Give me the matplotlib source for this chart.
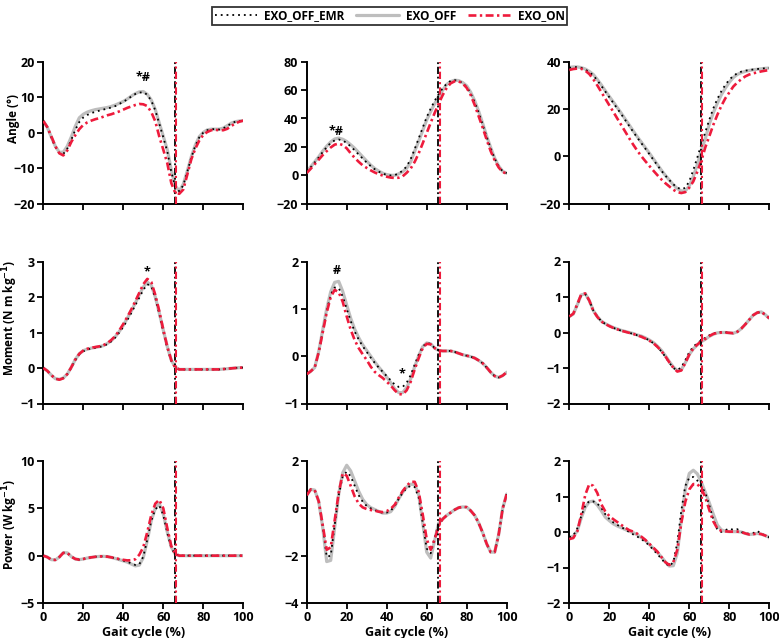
import numpy as np
import matplotlib
matplotlib.use("Agg")
import matplotlib.pyplot as plt

plt.rcParams['font.family'] = ['Open Sans', 'DejaVu Sans']
plt.rcParams['font.weight'] = 'bold'
plt.rcParams['mathtext.default'] = 'bf'

gait = np.arange(0, 101, 2)

# ---------------- Row 1: angles ----------------
ang1_off = [3.3, 1.5, -1.2, -3.8, -5.5, -5.5, -3.8, -1.2, 1.8, 4.2, 5.2, 5.8, 6.2, 6.5, 6.7, 6.9, 7.1, 7.4, 7.8, 8.3,
            8.8, 9.5, 10.3, 11.0, 11.5, 11.6, 10.8, 9.2, 6.5, 2.7, -1.0, -4.8, -10.5, -15.0, -16.4, -14.5, -10.8, -6.8,
            -3.5, -1.1, 0.1, 0.8, 1.0, 1.0, 1.0, 1.3, 2.0, 2.7, 3.1, 3.3, 3.4]
ang1_on = [3.3, 1.6, -1.0, -3.8, -5.8, -6.4, -5.0, -2.6, -0.7, 1.0, 2.2, 2.9, 3.4, 3.8, 4.1, 4.5, 4.9, 5.2, 5.6, 6.0,
           6.5, 7.0, 7.4, 7.8, 8.1, 8.0, 7.5, 5.8, 3.2, -1.1, -4.8, -8.6, -14.2, -17.0, -17.2, -16.0, -11.8, -7.5,
           -4.5, -2.2, -0.6, 0.2, 0.7, 0.8, 0.7, 0.7, 1.1, 1.9, 2.6, 3.1, 3.4]
ang1_emr = [3.3, 1.5, -1.3, -4.0, -5.8, -6.0, -4.5, -2.0, 0.8, 3.0, 4.3, 5.0, 5.5, 5.9, 6.2, 6.5, 6.8, 7.1, 7.5, 8.1,
            8.7, 9.4, 10.2, 10.9, 11.3, 11.4, 10.7, 9.0, 6.3, 2.5, -1.3, -5.3, -11.0, -15.3, -16.5, -14.8, -11.0,
            -7.0, -3.7, -1.3, 0.0, 0.7, 1.0, 1.0, 0.9, 1.2, 1.9, 2.6, 3.1, 3.3, 3.4]

ang2_off = [2.8, 6, 9.5, 13, 17, 20.5, 23.5, 25.6, 26.2, 25.4, 23.8, 21.5, 19, 16, 13, 10, 7.2, 4.8, 3.0, 1.5,
            0.5, 0, 0, 1, 2.6, 5, 9.5, 17, 24, 31.5, 39, 45, 50.5, 55.5, 60, 64, 66, 67, 66.7, 65.3,
            63, 58.5, 52.5, 45, 36.5, 27.5, 19.5, 12, 6.5, 2.8, 1.5]
ang2_on = [1.6, 4.6, 7.8, 11, 14.2, 17, 19.6, 21.6, 22.3, 21.3, 19.0, 15.5, 12.3, 9.5, 7, 5.2, 3.5, 2.0, 0.8, -0.2,
           -1.0, -1.6, -1.9, -1.7, -0.7, 1.8, 4.8, 9.5, 15.5, 22.5, 29.8, 37, 44, 50.5, 56.5, 61.6, 64.8, 66.2,
           66.2, 64.6, 61.6, 56.5, 49.5, 41.5, 33.5, 25, 17, 10.5, 5.5, 2.3, 1.2]
ang2_emr = [2.5, 5.6, 9, 12.5, 16.3, 19.8, 22.8, 24.6, 25.2, 24.5, 22.8, 20.3, 17.6, 14.6, 11.8, 9.0, 6.5, 4.3, 2.6,
            1.2, 0.3, -0.1, 0.1, 1.3, 3.3, 6.3, 11.5, 18.5, 26, 33.5, 41, 47, 52.5, 57.2, 61.3, 64.5, 66.5, 67,
            66.5, 64.8, 62.2, 57.5, 51.5, 44, 35.5, 27, 19, 11.8, 6.3, 2.8, 1.5]

ang3_off = [37.6, 37.8, 37.8, 37.5, 36.9, 35.9, 34.6, 32.5, 30.2, 27.7, 25.3, 23, 20.6, 18.2, 15.7, 13.2, 10.7, 8.3,
            6.0, 3.7, 1.4, -1, -3.4, -5.8, -8.0, -10, -12, -13.6, -14.6, -14.6, -12.5, -8.5, -3.5, 2.6, 7.5, 13.6,
            18.4, 22.4, 26, 28.8, 31.3, 33.3, 34.6, 35.4, 35.9, 36.3, 36.6, 36.8, 37, 37.2, 37.3]
ang3_on = [36.5, 36.9, 37.1, 37, 36.2, 34.8, 32.6, 30.0, 27.2, 24.4, 21.6, 18.8, 16.0, 13.2, 10.4, 7.6, 4.9, 2.4,
           0.1, -2.0, -4.0, -6.0, -7.9, -9.7, -11.3, -12.7, -14.1, -15.1, -15.5, -15.1, -13.2, -10.6, -6.5, -1.9,
           3.8, 8.5, 13.3, 17.5, 21.3, 24.5, 27, 29.5, 31.2, 32.6, 33.8, 34.6, 35.1, 35.5, 35.9, 36.2, 36.5]
ang3_emr = [37.4, 37.7, 37.7, 37.4, 36.7, 35.6, 34.2, 32.1, 29.8, 27.4, 25, 22.6, 20.2, 17.8, 15.3, 12.8, 10.3, 7.9,
            5.6, 3.3, 1, -1.4, -3.7, -6, -8.1, -10, -11.8, -13.2, -13.9, -13.3, -10.5, -5.8, -0.5, 5, 10.2, 15.5,
            20.3, 24.2, 27.5, 30.2, 32.4, 34, 35.1, 35.8, 36.2, 36.5, 36.7, 36.9, 37.1, 37.2, 37.3]

# ---------------- Row 2: moments ----------------
_tail_m1 = [-0.04] * 11 + [-0.03, -0.02, -0.01, 0.0, 0.01, 0.01]
mom1_off = [0.0, -0.08, -0.2, -0.3, -0.32, -0.28, -0.17, 0.02, 0.24, 0.4, 0.49, 0.53, 0.56, 0.58, 0.6, 0.63, 0.69,
            0.77, 0.88, 1.03, 1.2, 1.4, 1.6, 1.83, 2.06, 2.28, 2.42, 2.33, 2.0, 1.55, 1.06, 0.6, 0.22, 0.02] + _tail_m1
mom1_on = [0.0, -0.08, -0.2, -0.3, -0.33, -0.29, -0.17, 0.02, 0.24, 0.4, 0.49, 0.54, 0.57, 0.59, 0.61, 0.64, 0.7,
           0.79, 0.9, 1.06, 1.24, 1.44, 1.65, 1.88, 2.12, 2.36, 2.51, 2.42, 2.06, 1.6, 1.08, 0.6, 0.22, 0.01] + _tail_m1
mom1_emr = [0.0, -0.08, -0.2, -0.3, -0.32, -0.28, -0.17, 0.01, 0.22, 0.38, 0.47, 0.52, 0.55, 0.57, 0.59, 0.62, 0.67,
            0.75, 0.86, 1.0, 1.16, 1.35, 1.55, 1.77, 1.98, 2.2, 2.36, 2.3, 1.98, 1.52, 1.02, 0.56, 0.2, 0.01] + _tail_m1

_tail_m2 = [0.11, 0.11, 0.11, 0.09, 0.06, 0.03, 0.01, -0.01, -0.04, -0.09, -0.15, -0.24, -0.34, -0.42, -0.45,
            -0.41, -0.34]
mom2_off = [-0.38, -0.32, -0.24, 0.1, 0.55, 1.0, 1.36, 1.56, 1.58, 1.37, 1.08, 0.8, 0.57, 0.39, 0.24, 0.12, 0.0,
            -0.12, -0.23, -0.33, -0.44, -0.56, -0.69, -0.77, -0.77, -0.66, -0.48, -0.22, 0.01, 0.2, 0.28, 0.26,
            0.17, 0.12] + _tail_m2
mom2_on = [-0.38, -0.32, -0.24, 0.08, 0.5, 0.92, 1.25, 1.4, 1.35, 1.15, 0.84, 0.56, 0.34, 0.17, 0.04, -0.08, -0.22,
           -0.33, -0.4, -0.46, -0.54, -0.62, -0.72, -0.8, -0.81, -0.72, -0.54, -0.28, -0.04, 0.17, 0.26, 0.25,
           0.17, 0.12] + _tail_m2
mom2_emr = [-0.38, -0.32, -0.24, 0.08, 0.52, 0.95, 1.3, 1.45, 1.44, 1.26, 1.0, 0.74, 0.52, 0.35, 0.21, 0.09, -0.03,
            -0.14, -0.24, -0.33, -0.42, -0.51, -0.6, -0.65, -0.65, -0.56, -0.4, -0.18, 0.03, 0.2, 0.28, 0.26,
            0.17, 0.12] + _tail_m2

mom3_off = [0.45, 0.52, 0.78, 1.06, 1.09, 0.9, 0.62, 0.45, 0.32, 0.25, 0.19, 0.14, 0.1, 0.06, 0.03, 0.0, -0.03,
            -0.07, -0.1, -0.15, -0.21, -0.28, -0.38, -0.5, -0.65, -0.82, -0.97, -1.07, -1.05, -0.85, -0.62, -0.46,
            -0.35, -0.26, -0.19, -0.11, -0.05, -0.01, 0.0, 0.0, -0.01, -0.02, 0.02, 0.11, 0.23, 0.36, 0.49, 0.56,
            0.58, 0.5, 0.4]
mom3_on = [0.45, 0.53, 0.8, 1.08, 1.1, 0.9, 0.61, 0.44, 0.31, 0.24, 0.18, 0.13, 0.09, 0.05, 0.02, -0.01, -0.04,
           -0.08, -0.12, -0.17, -0.23, -0.3, -0.4, -0.52, -0.67, -0.84, -0.99, -1.1, -1.07, -0.86, -0.62, -0.45,
           -0.34, -0.25, -0.18, -0.1, -0.04, -0.01, 0.0, 0.0, -0.01, -0.02, 0.02, 0.11, 0.23, 0.36, 0.49, 0.56,
           0.58, 0.5, 0.4]
mom3_emr = [0.45, 0.52, 0.78, 1.05, 1.08, 0.9, 0.62, 0.45, 0.32, 0.24, 0.18, 0.13, 0.09, 0.05, 0.02, -0.01, -0.04,
            -0.08, -0.11, -0.16, -0.22, -0.3, -0.4, -0.53, -0.68, -0.85, -1.0, -1.06, -0.98, -0.78, -0.55, -0.4,
            -0.3, -0.22, -0.15, -0.08, -0.03, 0.0, 0.01, 0.01, -0.01, -0.02, 0.02, 0.11, 0.23, 0.36, 0.49, 0.56,
            0.58, 0.5, 0.4]

# ---------------- Row 3: powers ----------------
_tail_p1 = [0.0] * 17
pow1_on = [0.0, -0.15, -0.42, -0.45, -0.15, 0.3, 0.3, -0.1, -0.35, -0.42, -0.35, -0.25, -0.18, -0.12, -0.08, -0.07,
           -0.1, -0.18, -0.27, -0.36, -0.44, -0.5, -0.48, -0.38, 0.1, 0.9, 2.5, 4.3, 5.5, 5.9, 5.0, 2.9, 1.0,
           0.2] + _tail_p1
pow1_off = [0.0, -0.15, -0.42, -0.45, -0.15, 0.3, 0.3, -0.1, -0.35, -0.42, -0.35, -0.25, -0.18, -0.12, -0.08, -0.07,
            -0.1, -0.18, -0.3, -0.42, -0.55, -0.68, -0.88, -1.08, -1.0, -0.2, 1.6, 3.7, 5.0, 5.5, 4.4, 2.5, 0.9,
            0.15] + _tail_p1
pow1_emr = [0.0, -0.15, -0.42, -0.45, -0.15, 0.3, 0.3, -0.1, -0.35, -0.42, -0.35, -0.25, -0.18, -0.12, -0.08, -0.07,
            -0.1, -0.18, -0.29, -0.4, -0.52, -0.64, -0.82, -0.98, -0.92, -0.1, 1.7, 3.7, 4.9, 5.3, 4.3, 2.4, 0.8,
            0.12] + _tail_p1

_tail_p2 = [-0.45, -0.3, -0.18, -0.06, 0.03, 0.06, 0.05, -0.1, -0.3, -0.62, -1.03, -1.5, -1.85, -1.85, -1.1, 0.0,
            0.6]
pow2_off = [0.55, 0.8, 0.77, 0.3, -0.8, -2.25, -2.2, -0.8, 0.6, 1.5, 1.82, 1.58, 1.15, 0.72, 0.38, 0.16, 0.03,
            -0.05, -0.13, -0.2, -0.2, -0.14, 0.08, 0.4, 0.68, 0.9, 1.02, 1.0, 0.57, -0.6, -1.85, -2.1, -1.35,
            -0.62] + _tail_p2
pow2_on = [0.55, 0.8, 0.77, 0.3, -0.7, -1.75, -1.65, -0.5, 0.65, 1.48, 1.38, 0.95, 0.5, 0.2, 0.04, -0.03, -0.07,
           -0.1, -0.14, -0.16, -0.12, -0.02, 0.15, 0.45, 0.73, 0.95, 1.12, 1.12, 0.7, -0.25, -1.3, -1.75, -1.3,
           -0.75] + _tail_p2
pow2_emr = [0.55, 0.8, 0.77, 0.3, -0.75, -2.05, -2.0, -0.7, 0.55, 1.35, 1.55, 1.35, 0.95, 0.55, 0.28, 0.1, 0.0,
            -0.07, -0.14, -0.19, -0.18, -0.1, 0.1, 0.4, 0.66, 0.86, 0.95, 0.9, 0.45, -0.6, -1.7, -1.9, -1.25,
            -0.62] + _tail_p2

pow3_off = [-0.15, -0.12, 0.03, 0.4, 0.7, 0.85, 0.87, 0.76, 0.6, 0.42, 0.32, 0.23, 0.17, 0.12, 0.07, 0.02, -0.02,
            -0.08, -0.16, -0.24, -0.35, -0.46, -0.57, -0.7, -0.84, -0.96, -0.95, -0.6, 0.35, 1.2, 1.65, 1.74, 1.64,
            1.4, 1.12, 0.82, 0.5, 0.2, 0.06, 0.02, 0.01, 0.01, 0.01, 0.0, -0.04, -0.07, -0.06, -0.04, -0.06, -0.1,
            -0.15]
pow3_on = [-0.2, -0.17, 0.02, 0.5, 1.05, 1.35, 1.3, 1.1, 0.78, 0.58, 0.45, 0.36, 0.28, 0.2, 0.12, 0.05, 0.01,
           -0.05, -0.13, -0.22, -0.33, -0.44, -0.55, -0.7, -0.85, -0.93, -0.85, -0.5, 0.25, 0.85, 1.2, 1.35, 1.35,
           1.22, 0.98, 0.62, 0.3, 0.1, 0.03, 0.02, 0.01, 0.01, 0.01, 0.0, -0.04, -0.07, -0.06, -0.04, -0.06, -0.1,
           -0.18]
pow3_emr = [-0.15, -0.1, 0.1, 0.45, 0.75, 0.87, 0.86, 0.8, 0.68, 0.5, 0.37, 0.27, 0.2, 0.14, 0.07, 0.0, -0.07,
            -0.13, -0.2, -0.28, -0.38, -0.5, -0.62, -0.75, -0.88, -0.96, -0.85, -0.3, 0.6, 1.3, 1.53, 1.55, 1.45,
            1.3, 1.1, 0.75, 0.35, 0.08, 0.0, 0.05, 0.1, 0.06, 0.08, 0.0, -0.04, -0.05, -0.03, 0.03, -0.05, -0.1,
            -0.15]

toe_off_emr = 65.8
toe_off_on = 66.5

panels = [
    [(ang1_emr, ang1_off, ang1_on), (ang2_emr, ang2_off, ang2_on), (ang3_emr, ang3_off, ang3_on)],
    [(mom1_emr, mom1_off, mom1_on), (mom2_emr, mom2_off, mom2_on), (mom3_emr, mom3_off, mom3_on)],
    [(pow1_emr, pow1_off, pow1_on), (pow2_emr, pow2_off, pow2_on), (pow3_emr, pow3_off, pow3_on)],
]
ylims = [[(-20, 20, 10), (-20, 80, 20), (-20, 40, 20)],
         [(-1, 3, 1), (-1, 2, 1), (-2, 2, 1)],
         [(-5, 10, 5), (-4, 2, 2), (-2, 2, 1)]]
ylabels = ['Angle (°)', 'Moment (N m kg$^{-1}$)', 'Power (W kg$^{-1}$)']
ylabel_centre = [0.6, 0.6, 0.55]
annotations = [(0, 0, 50, 15.5, '*#'), (0, 1, 14.5, 31, '*#'), (1, 0, 52, 2.72, '*'),
               (1, 1, 15, 1.8, '#'), (1, 1, 47.5, -0.38, '*')]

RED = '#EE1B3C'
GREY = '#BEBEBE'

fig = plt.figure(figsize=(7.79, 6.38), dpi=100)
lefts = [43.3, 306.7, 569.3]
tops = [61.7, 261.5, 461.0]
W, H = 200.0, 142.0
handles = None
for r in range(3):
    for c in range(3):
        ax = fig.add_axes([lefts[c] / 779, 1 - (tops[r] + H) / 638, W / 779, H / 638])
        emr, off, on = panels[r][c]
        h_off, = ax.plot(gait, off, color=GREY, lw=2.3, solid_capstyle='round', zorder=2, label='EXO_OFF')
        h_emr, = ax.plot(gait, emr, color='black', lw=1.3, linestyle=(0, (1, 2.2)), zorder=3, label='EXO_OFF_EMR')
        h_on, = ax.plot(gait, on, color=RED, lw=1.9, linestyle=(0, (3.0, 1.3, 0.9, 1.3)), zorder=4, label='EXO_ON')
        ax.axvline(toe_off_emr, color='black', lw=1.3, linestyle=(0, (4, 1.5, 1, 1.5)), zorder=5)
        ax.axvline(toe_off_on, color=RED, lw=1.5, linestyle=(0, (3.5, 1.5, 1, 1.5)), zorder=5)
        handles = [h_emr, h_off, h_on]
        lo, hi, st = ylims[r][c]
        ax.set_ylim(lo, hi)
        ax.set_yticks(np.arange(lo, hi + st / 2, st))
        ax.set_xlim(0, 100)
        ax.set_xticks(np.arange(0, 101, 20))
        for s in ['top', 'right']:
            ax.spines[s].set_visible(False)
        for s in ['left', 'bottom']:
            ax.spines[s].set_linewidth(1.4)
        ax.tick_params(direction='out', length=4, width=1.3, labelsize=9, pad=2)
        for lab in ax.get_yticklabels() + ax.get_xticklabels():
            lab.set_fontweight('bold')
        if r < 2:
            ax.set_xticklabels([])
        else:
            ax.set_xlabel('Gait cycle (%)', fontsize=9, fontweight='bold', labelpad=1)
        if c == 0:
            ax.set_ylabel(ylabels[r], fontsize=8.5, fontweight='bold')
            ax.yaxis.set_label_coords(-0.115, ylabel_centre[r])
        ax.patch.set_alpha(0)
        for (ar, ac, ax_x, ax_y, txt) in annotations:
            if ar == r and ac == c:
                ax.text(ax_x, ax_y, txt, ha='center', va='center', fontsize=9, fontweight='bold')

leg = fig.legend(handles, ['EXO_OFF_EMR', 'EXO_OFF', 'EXO_ON'], loc='upper center',
                 bbox_to_anchor=(0.5, 0.999), ncol=3, frameon=True, fancybox=False, edgecolor='black',
                 prop={'weight': 'bold', 'size': 8.5}, handlelength=3.6, columnspacing=1.0,
                 borderpad=0.25, handletextpad=0.6)
leg.get_frame().set_linewidth(1.3)

fig.savefig('out.png', dpi=100)
